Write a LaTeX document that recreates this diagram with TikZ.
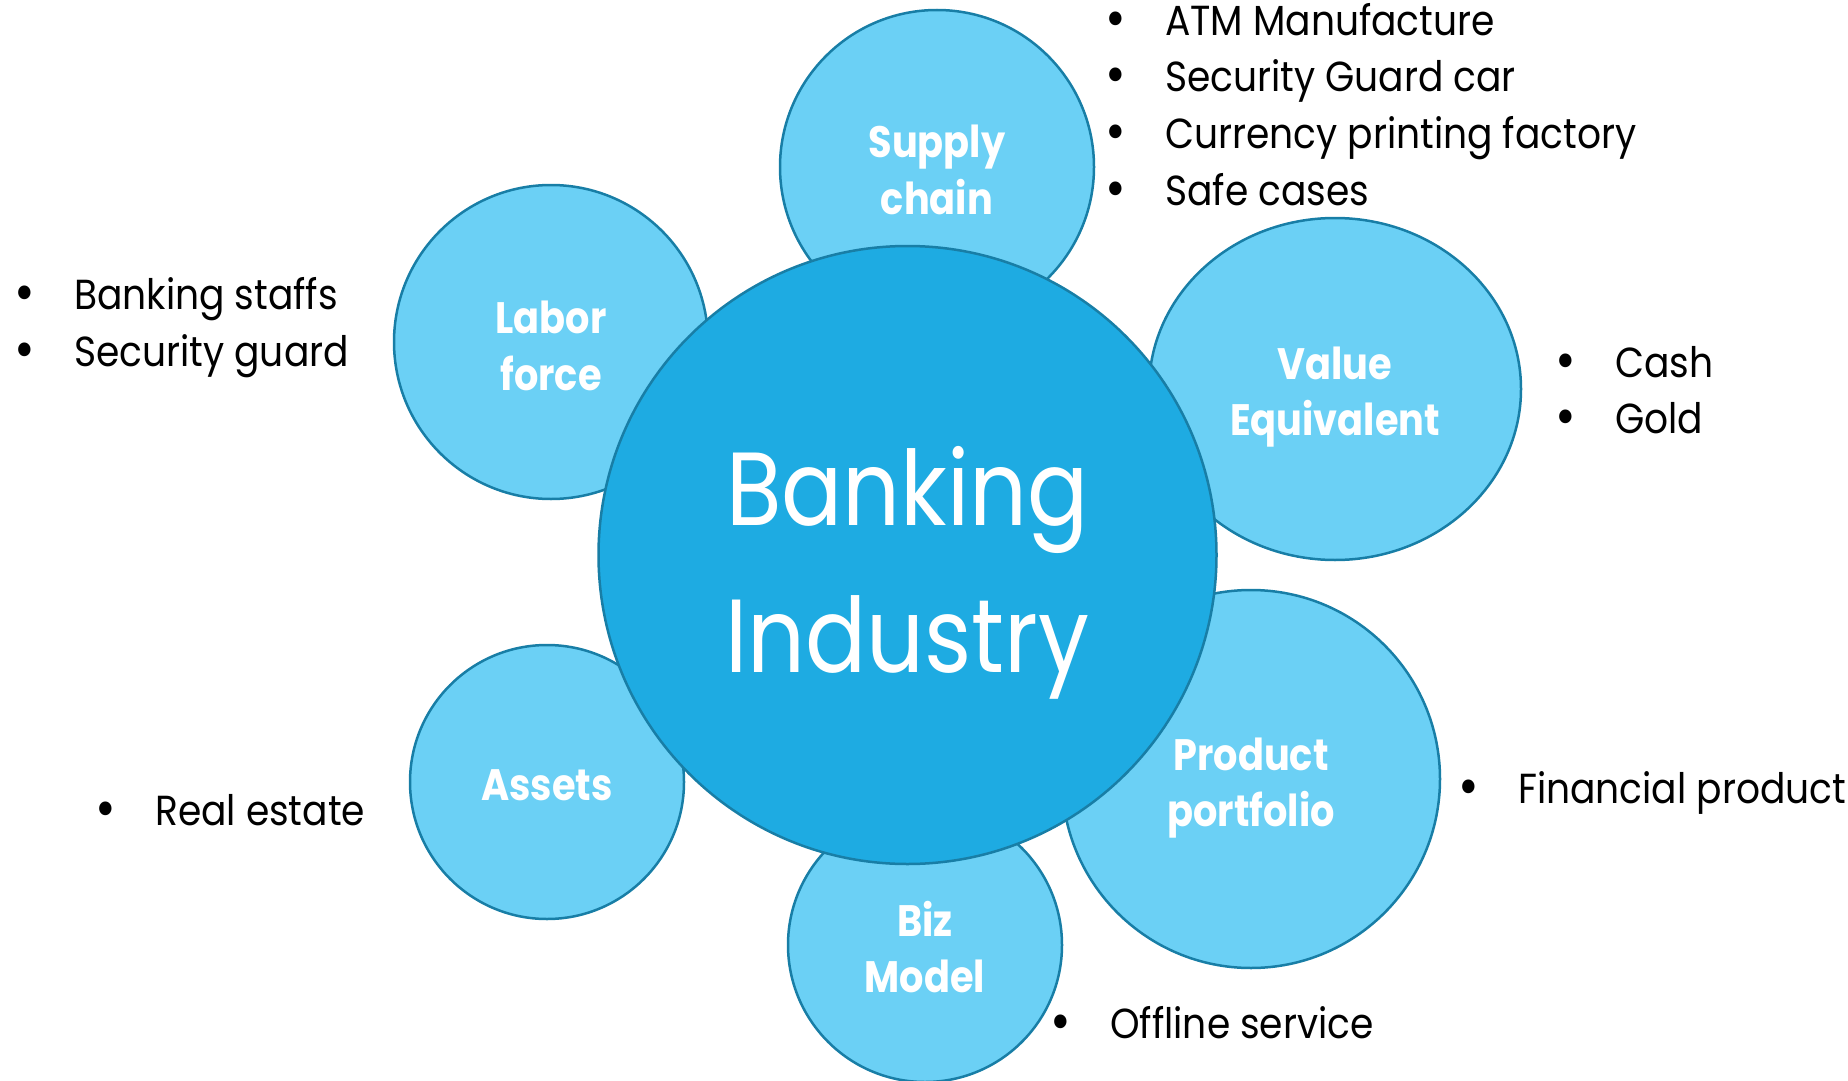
\documentclass[tikz,border=0pt]{standalone}
\usepackage{fontspec}
\setmainfont{Poppins}[FakeStretch=0.87]
\newfontfamily\notefont{Poppins}[FakeStretch=0.895]
\usetikzlibrary{shapes.geometric,positioning}

\definecolor{hubblue}{RGB}{30,171,226}
\definecolor{petalblue}{RGB}{107,208,245}
\definecolor{rimblue}{RGB}{24,126,166}

\tikzset{
  petaltext/.style={text=white,align=center,inner sep=0pt,font=\bfseries\fontsize{44}{56.5}\selectfont},
  petal/.style 2 args={circle,draw=rimblue,fill=petalblue,line width=2.5pt,inner sep=0pt,
    label={[petaltext,yshift=#2]center:#1}},
  hub/.style={petal={}{0pt},fill=hubblue},
  hubtext/.style={petaltext,font=\fontsize{104}{147}\selectfont},
  note/.style={anchor=base west,inner sep=0pt,font=\notefont\fontsize{42}{56.5}\selectfont}
}
\newcommand{\itm}[1]{\makebox[53pt][l]{\hspace{-7pt}{\fontsize{56}{56}\selectfont\raisebox{-2pt}{\textbullet}}}#1}

\begin{document}
\begin{tikzpicture}[x=1pt,y=-1pt]
\useasboundingbox (0,0) rectangle (1848,1081);
% the petals first, the hub sits on top of them
\node[petal={Supply\\chain}{-3pt},minimum size=314pt] (supply) at (937,167) {};
\node[petal={Labor\\force}{-4pt},minimum size=314pt] (labor) at (551,342) {};
\node[petal={Value\\Equivalent}{-8pt},ellipse,minimum width=372pt,minimum height=342pt] (value) at (1335,389) {};
\node[petal={Product\\portfolio}{-9pt},minimum size=378pt] (product) at (1251,779) {};
\node[petal={Assets}{-3pt},minimum size=274pt] (assets) at (547,782) {};
\node[petal={Biz\\Model}{-2pt},minimum size=274pt] (biz) at (925,945) {};
\node[hub,minimum size=618pt] (bank) at (907.5,555) {};
\node[hubtext,yshift=-18pt] (banktext) at (bank.center) {Banking\\Industry};

% bullet lists
\foreach \txt [count=\i] in {ATM Manufacture,Security Guard car,Currency printing factory,Safe cases}
  \node[note] (supply\i) at (1112,35.5+56.5*\i-56.5) {\itm{\txt}};
\foreach \txt [count=\i] in {Banking staffs,Security guard}
  \node[note] (labor\i) at (21,309.5+56.5*\i-56.5) {\itm{\txt}};
\foreach \txt [count=\i] in {Cash,Gold}
  \node[note] (value\i) at (1562,377+56.5*\i-56.5) {\itm{\txt}};
\node[note] (product1) at (1465,803.5) {\itm{Financial product}};
\node[note] (assets1) at (102,825) {\itm{Real estate}};
\node[note] (biz1) at (1057,1038.5) {\itm{Offline service}};
\end{tikzpicture}
\end{document}
